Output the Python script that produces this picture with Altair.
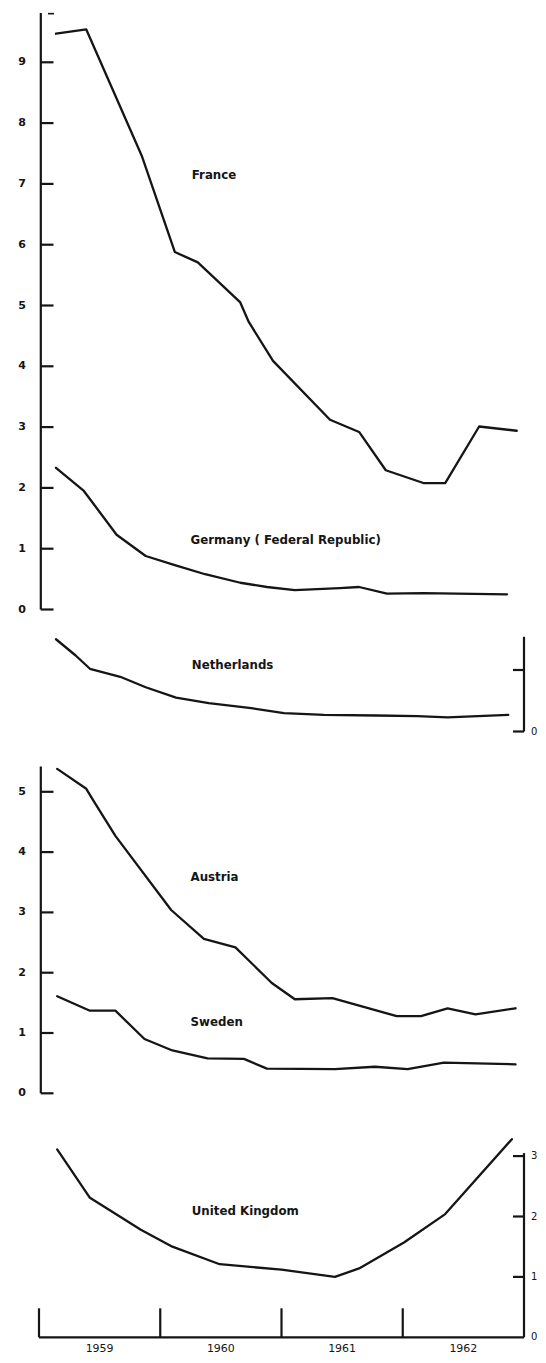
import altair as alt
import pandas as pd

# ---------------- data ----------------
# time in fractional years, values in the chart's units
france_t = [1959.14, 1959.39, 1959.85, 1960.12, 1960.31, 1960.66, 1960.73, 1960.93,
            1961.40, 1961.64, 1961.86, 1962.17, 1962.35, 1962.63, 1962.94]
france_v = [9.47, 9.54, 7.45, 5.88, 5.71, 5.05, 4.73, 4.09,
            3.12, 2.92, 2.29, 2.08, 2.08, 3.01, 2.94]

germany_t = [1959.14, 1959.37, 1959.64, 1959.88, 1960.12, 1960.37, 1960.66, 1960.88,
             1961.11, 1961.48, 1961.64, 1961.87, 1962.17, 1962.86]
germany_v = [2.33, 1.95, 1.23, 0.88, 0.73, 0.58, 0.44, 0.37,
             0.32, 0.35, 0.37, 0.26, 0.27, 0.25]

netherlands_t = [1959.14, 1959.30, 1959.42, 1959.67, 1959.88, 1960.13, 1960.40, 1960.75,
                 1961.02, 1961.35, 1961.78, 1962.12, 1962.37, 1962.87]
netherlands_v = [1.50, 1.24, 1.02, 0.89, 0.72, 0.55, 0.46, 0.38,
                 0.30, 0.27, 0.26, 0.25, 0.23, 0.27]

austria_t = [1959.15, 1959.39, 1959.45, 1959.63, 1960.09, 1960.36, 1960.62, 1960.92,
             1961.11, 1961.42, 1961.95, 1962.15, 1962.37, 1962.60, 1962.93]
austria_v = [5.38, 5.05, 4.85, 4.27, 3.04, 2.56, 2.42, 1.83,
             1.56, 1.58, 1.28, 1.28, 1.41, 1.31, 1.41]

sweden_t = [1959.15, 1959.42, 1959.63, 1959.87, 1960.10, 1960.39, 1960.69, 1960.88,
            1961.44, 1961.77, 1962.04, 1962.34, 1962.93]
sweden_v = [1.61, 1.37, 1.37, 0.90, 0.71, 0.58, 0.57, 0.41,
            0.40, 0.44, 0.40, 0.51, 0.48]

uk_t = [1959.15, 1959.42, 1959.84, 1960.10, 1960.49, 1961.00, 1961.44, 1961.64,
        1962.01, 1962.35, 1962.90]
uk_v = [3.11, 2.31, 1.78, 1.50, 1.21, 1.12, 1.00, 1.14, 1.57, 2.04, 3.28]

top_ticks = [0, 1, 2, 3, 4, 5, 6, 7, 8, 9]
mid_ticks = [0, 1, 2, 3, 4, 5]
nl_ticks = [0, 1]
nl_tick_labels = ["0"]
uk_ticks = [1, 2, 3]
uk_tick_labels = ["0", "1", "2", "3"]
years = [1959, 1960, 1961, 1962]
year_labels = ["1959", "1960", "1961", "1962"]

# label anchors (data units)
labels = [
    ("top", "France", 1960.26, 7.15),
    ("top", "Germany ( Federal Republic)", 1960.25, 1.15),
    ("nl", "Netherlands", 1960.26, 1.08),
    ("as", "Austria", 1960.25, 3.59),
    ("as", "Sweden", 1960.25, 1.18),
    ("uk", "United Kingdom", 1960.26, 2.09),
]

# ---------------- layout (pixels) ----------------
W = 485           # plot width (page x 39 -> 524)
H = 1346          # whole svg height (page y 8 -> 1354)
PANEL = {  # reference page y of value 0, pixels per unit
    "top": (609.5, 60.8),
    "nl": (731.5, 61.5),
    "as": (1093.3, 60.3),
    "uk": (1337.3, 60.4),
}
INK = "#151515"
FONT = "DejaVu Sans"


def py(y_ref):
    return y_ref - 8


xs = alt.Scale(domain=[1959, 1963], range=[0, W], zero=False, nice=False)


def ys(p):
    z, u = PANEL[p]
    z = py(z)
    return alt.Scale(domain=[0, 10], range=[z, z - 10 * u], zero=False, nice=False)


layers = []

series = [
    ("top", france_t, france_v),
    ("top", germany_t, germany_v),
    ("nl", netherlands_t, netherlands_v),
    ("as", austria_t, austria_v),
    ("as", sweden_t, sweden_v),
    ("uk", uk_t, uk_v),
]
for p, t, v in series:
    df = pd.DataFrame({"t": t, "v": v})
    layers.append(
        alt.Chart(df).mark_line(color=INK, strokeWidth=2.3, strokeJoin="round", strokeCap="round").encode(
            x=alt.X("t:Q", scale=xs, axis=None),
            y=alt.Y("v:Q", scale=ys(p), axis=None),
        )
    )

for p, name, lx, ly in labels:
    df = pd.DataFrame({"t": [lx], "v": [ly], "name": [name]})
    layers.append(
        alt.Chart(df).mark_text(align="left", baseline="middle", font=FONT, fontSize=11.8,
                                fontWeight="bold", color=INK).encode(
            x=alt.X("t:Q", scale=xs, axis=None),
            y=alt.Y("v:Q", scale=ys(p), axis=None),
            text="name:N",
        )
    )


def left_axis(p, ticks, top):
    out = []
    out.append(alt.Chart(pd.DataFrame({"a": [0], "b": [top]})).mark_rule(color=INK, strokeWidth=2.2).encode(
        x=alt.value(1.8), y=alt.Y("a:Q", scale=ys(p), axis=None), y2="b:Q"))
    tdf = pd.DataFrame({"v": ticks, "lab": [str(k) for k in ticks]})
    out.append(alt.Chart(tdf).mark_rule(color=INK, strokeWidth=2.2).encode(
        x=alt.value(1.8), x2=alt.value(14.5), y=alt.Y("v:Q", scale=ys(p), axis=None)))
    out.append(alt.Chart(tdf).mark_text(align="center", baseline="middle", font=FONT, fontSize=11,
                                        fontWeight="bold", color=INK).encode(
        x=alt.value(-17), y=alt.Y("v:Q", scale=ys(p), axis=None), text="lab:N"))
    return out


def right_axis(p, ticks, labs, bottom, top):
    out = []
    out.append(alt.Chart(pd.DataFrame({"a": [bottom], "b": [top]})).mark_rule(color=INK, strokeWidth=2.2).encode(
        x=alt.value(W), y=alt.Y("a:Q", scale=ys(p), axis=None), y2="b:Q"))
    tdf = pd.DataFrame({"v": ticks})
    out.append(alt.Chart(tdf).mark_rule(color=INK, strokeWidth=2.2).encode(
        x=alt.value(W - 11), x2=alt.value(W), y=alt.Y("v:Q", scale=ys(p), axis=None)))
    ldf = pd.DataFrame({"v": [float(s) for s in labs], "lab": labs})
    out.append(alt.Chart(ldf).mark_text(align="left", baseline="middle", font=FONT, fontSize=10,
                                        color=INK).encode(
        x=alt.value(W + 7), y=alt.Y("v:Q", scale=ys(p), axis=None), text="lab:N"))
    return out


layers += left_axis("top", top_ticks, 9.81)
# small dash at the top of the first axis
layers.append(alt.Chart(pd.DataFrame({"v": [9.8]})).mark_rule(color=INK, strokeWidth=1.6).encode(
    x=alt.value(9), x2=alt.value(15), y=alt.Y("v:Q", scale=ys("top"), axis=None)))
layers += left_axis("as", mid_ticks, 5.42)
layers += right_axis("nl", nl_ticks, nl_tick_labels, 0, 1.54)
layers += right_axis("uk", uk_ticks, uk_tick_labels, 0, 3.05)

# bottom time axis
layers.append(alt.Chart(pd.DataFrame({"v": [0]})).mark_rule(color=INK, strokeWidth=2.2).encode(
    x=alt.value(0), x2=alt.value(W), y=alt.Y("v:Q", scale=ys("uk"), axis=None)))
ydf = pd.DataFrame({"t": years, "a": [0] * 4, "b": [0.48] * 4})
layers.append(alt.Chart(ydf).mark_rule(color=INK, strokeWidth=2.2).encode(
    x=alt.X("t:Q", scale=xs, axis=None), y=alt.Y("a:Q", scale=ys("uk"), axis=None), y2="b:Q"))
ldf = pd.DataFrame({"t": [y + 0.5 for y in years], "v": [-0.20] * 4, "lab": year_labels})
layers.append(alt.Chart(ldf).mark_text(align="center", baseline="middle", font=FONT, fontSize=11,
                                       color=INK).encode(
    x=alt.X("t:Q", scale=xs, axis=None), y=alt.Y("v:Q", scale=ys("uk"), axis=None), text="lab:N"))

chart = alt.layer(*layers).resolve_scale(y="independent").properties(
    width=W, height=H,
    autosize=alt.AutoSizeParams(type="none"),
    padding={"left": 31, "top": 0, "right": 14, "bottom": 0},
    background="white",
).configure_view(stroke=None)

chart.save("out.html", embed_options={"renderer": "svg", "actions": False})
